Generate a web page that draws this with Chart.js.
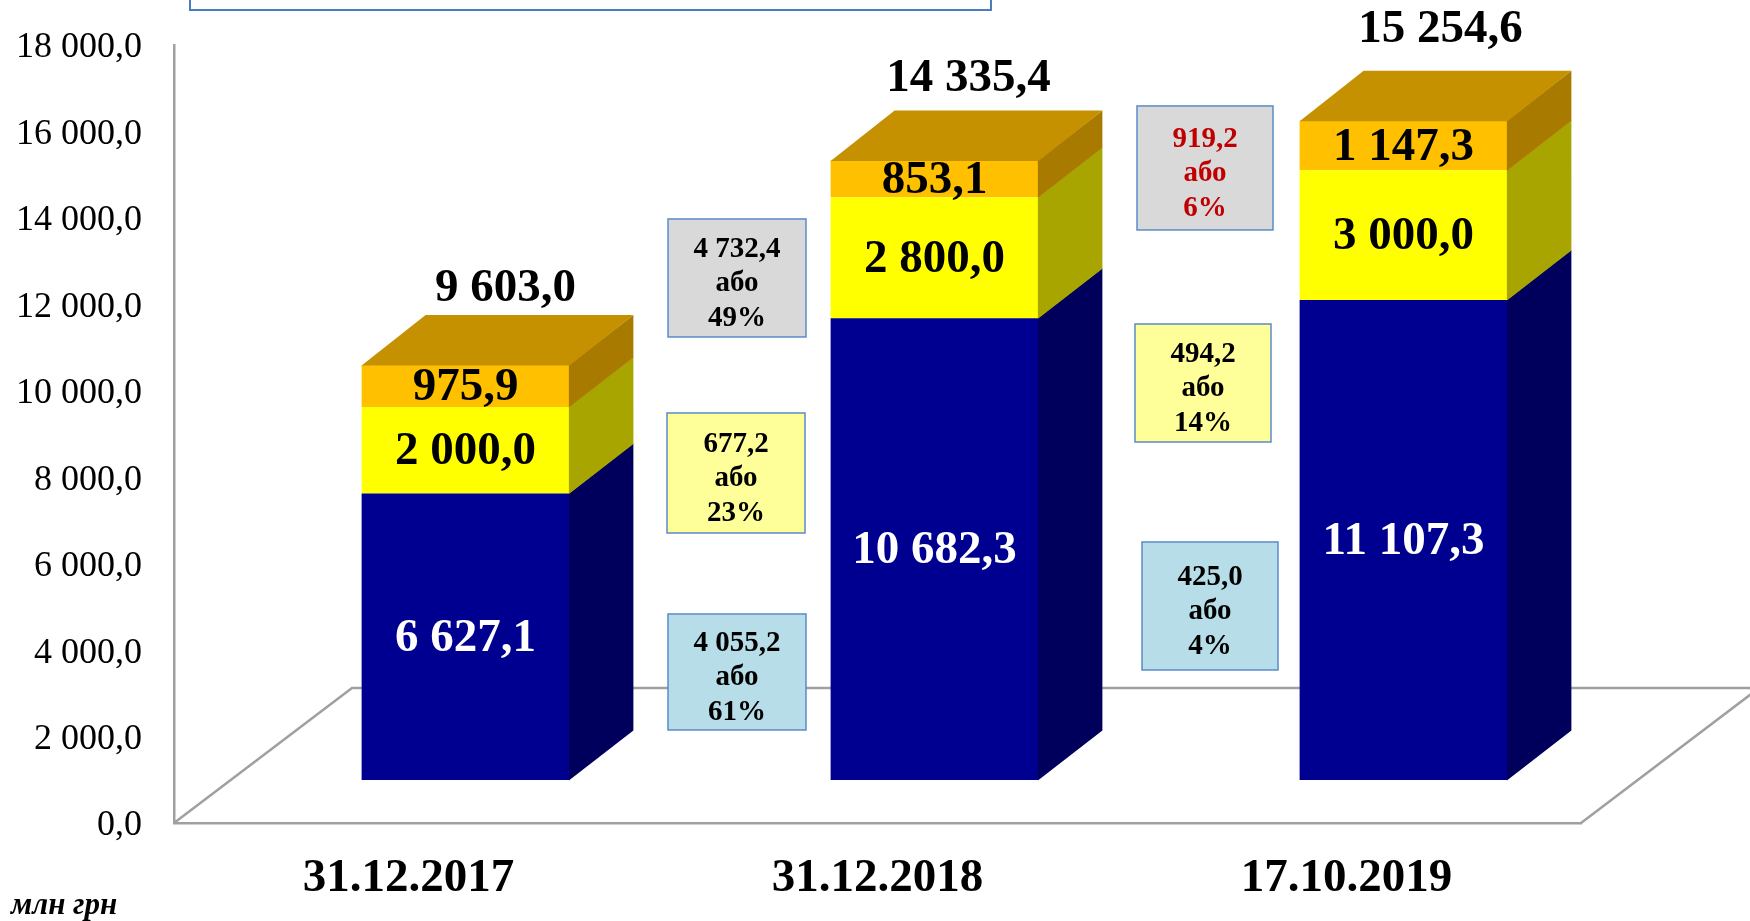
<!DOCTYPE html>
<html>
<head>
<meta charset="utf-8">
<script src="https://cdn.jsdelivr.net/npm/chart.js@4.4.1/dist/chart.umd.min.js"></script>
<style>
  html, body { margin: 0; padding: 0; background: #fff; }
  #wrap { position: relative; width: 1750px; height: 921px; }
</style>
</head>
<body>
<div id="wrap"><canvas id="chart"></canvas></div>
<script>
const categories = ['31.12.2017', '31.12.2018', '17.10.2019'];
const blueValues = [6627.1, 10682.3, 11107.3];
const yellowValues = [2000.0, 2800.0, 3000.0];
const orangeValues = [975.9, 853.1, 1147.3];
const totals = [9603.0, 14335.4, 15254.6];

// change boxes between neighbouring dates
const totalChange = [4732.4, 919.2];
const totalChangePct = [49, 6];
const yellowChange = [677.2, 494.2];
const yellowChangePct = [23, 14];
const blueChange = [4055.2, 425.0];
const blueChangePct = [61, 4];

const SERIF = '"Liberation Serif", "Times New Roman", serif';

// oblique 3d look: bars sit behind the front plane of the axes
const D = { barDx: 57, barDy: 43, sideDx: 64, sideDy: 50, floorDx: 178, floorDy: 135 };

// hand placed totals in the original, so a small nudge per bar
const totalNudge = [[0, 0], [-6, -5], [-3, -15]];

// where the change boxes sit: value on the y scale, nudge from the gap centre, size
const boxLayout = {
  total:  { at: [12610, 15155], dx: [94, 93], w: [138, 136], h: [118, 124], fill: '#d9d9d9', color: ['#000', '#c00000'] },
  yellow: { at: [8098, 10180],  dx: [93, 91], w: [138, 136], h: [120, 118], fill: '#ffff99', color: ['#000', '#000'] },
  blue:   { at: [3494, 5021],   dx: [94, 98], w: [138, 136], h: [116, 128], fill: '#b7dde8', color: ['#000', '#000'] }
};

function fmt(v) {
  const [i, d] = v.toFixed(1).split('.');
  return i.replace(/\B(?=(\d{3})+(?!\d))/g, ' ') + ',' + d;
}

const bars3d = {
  id: 'bars3d',
  beforeDatasetsDraw(chart) {
    const { ctx, chartArea: a } = chart;
    // floor
    ctx.save();
    ctx.strokeStyle = '#a0a0a0';
    ctx.lineWidth = 2.5;
    ctx.beginPath();
    ctx.moveTo(a.left, a.bottom);
    ctx.lineTo(a.left + D.floorDx, a.bottom - D.floorDy);
    ctx.lineTo(a.right + D.floorDx, a.bottom - D.floorDy);
    ctx.moveTo(a.right, a.bottom);
    ctx.lineTo(a.right + D.floorDx, a.bottom - D.floorDy);
    ctx.stroke();
    ctx.restore();

    ctx.save();
    ctx.translate(D.barDx, -D.barDy);
  },
  afterDatasetsDraw(chart) {
    const ctx = chart.ctx;
    const sets = chart.data.datasets;
    const last = sets.length - 1;

    sets.forEach((ds, di) => {
      chart.getDatasetMeta(di).data.forEach((bar, i) => {
        const { x, y, base, width } = bar.getProps(['x', 'y', 'base', 'width'], true);
        const l = x - width / 2, r = x + width / 2;
        ctx.fillStyle = ds.sideColor;
        ctx.beginPath();
        ctx.moveTo(r - 0.5, y);
        ctx.lineTo(r + D.sideDx, y - D.sideDy);
        ctx.lineTo(r + D.sideDx, base - D.sideDy + 0.5);
        ctx.lineTo(r - 0.5, base + 0.5);
        ctx.closePath();
        ctx.fill();
        if (di === last) {
          ctx.fillStyle = ds.topColor;
          ctx.beginPath();
          ctx.moveTo(l, y + 0.5);
          ctx.lineTo(l + D.sideDx, y - D.sideDy);
          ctx.lineTo(r + D.sideDx, y - D.sideDy);
          ctx.lineTo(r, y + 0.5);
          ctx.closePath();
          ctx.fill();
        }
      });
    });

    // value labels
    ctx.textAlign = 'center';
    ctx.textBaseline = 'middle';
    ctx.font = 'bold 47px ' + SERIF;
    sets.forEach((ds, di) => {
      chart.getDatasetMeta(di).data.forEach((bar, i) => {
        const { x, y, base } = bar.getProps(['x', 'y', 'base'], true);
        ctx.fillStyle = ds.labelColor;
        ctx.fillText(fmt(ds.data[i]), x, (y + base) / 2 + 2);
      });
    });

    // totals above the bars
    const top = chart.getDatasetMeta(last).data;
    ctx.fillStyle = '#000';
    ctx.textBaseline = 'alphabetic';
    top.forEach((bar, i) => {
      const { x, y } = bar.getProps(['x', 'y'], true);
      ctx.fillText(fmt(totals[i]), x + D.sideDx / 2 + 8 + totalNudge[i][0], y - D.sideDy - 14 + totalNudge[i][1]);
    });

    ctx.restore();
  },
  afterDraw(chart) {
    const { ctx, scales } = chart;
    const xs = scales.x, ys = scales.y;

    const drawBox = (key, vals, pcts) => {
      const b = boxLayout[key];
      vals.forEach((v, i) => {
        const cx = (xs.getPixelForValue(i) + xs.getPixelForValue(i + 1)) / 2 + b.dx[i];
        const cy = ys.getPixelForValue(b.at[i]);
        const w = b.w[i], h = b.h[i];
        ctx.fillStyle = b.fill;
        ctx.fillRect(cx - w / 2, cy - h / 2, w, h);
        ctx.strokeStyle = '#5b8bc9';
        ctx.lineWidth = 1.5;
        ctx.strokeRect(cx - w / 2, cy - h / 2, w, h);
        ctx.fillStyle = b.color[i];
        ctx.font = 'bold 29px ' + SERIF;
        ctx.textAlign = 'center';
        ctx.textBaseline = 'middle';
        [fmt(v), 'або', pcts[i] + '%'].forEach((t, k) => {
          ctx.fillText(t, cx, cy + 6 + (k - 1) * 34.5);
        });
      });
    };
    drawBox('total', totalChange, totalChangePct);
    drawBox('yellow', yellowChange, yellowChangePct);
    drawBox('blue', blueChange, blueChangePct);

    // unit
    ctx.fillStyle = '#000';
    ctx.font = 'italic bold 31px ' + SERIF;
    ctx.textAlign = 'left';
    ctx.textBaseline = 'middle';
    ctx.fillText('млн грн', 11, 906);

    // bottom edge of the legend frame above the picture
    ctx.strokeStyle = '#4a7ebb';
    ctx.lineWidth = 2;
    ctx.strokeRect(190, -20, 801, 30);
  }
};

new Chart(document.getElementById('chart'), {
  type: 'bar',
  data: {
    labels: categories,
    datasets: [
      { data: blueValues, backgroundColor: '#000090', sideColor: '#00005c', labelColor: '#fff' },
      { data: yellowValues, backgroundColor: '#ffff00', sideColor: '#a8a400', labelColor: '#000' },
      { data: orangeValues, backgroundColor: '#ffc000', sideColor: '#a87b00', topColor: '#c59100', labelColor: '#000' }
    ]
  },
  options: {
    responsive: true,
    maintainAspectRatio: false,
    animation: false,
    layout: { padding: { top: 45, right: 169, left: 0, bottom: 0 } },
    datasets: { bar: { barPercentage: 0.443, categoryPercentage: 1, borderWidth: 0 } },
    plugins: { legend: { display: false }, tooltip: { enabled: false } },
    scales: {
      x: {
        stacked: true,
        grid: { display: false },
        border: { display: true, color: '#a0a0a0', width: 2.5 },
        ticks: { color: '#000', padding: 20, font: { family: SERIF, size: 47, weight: 'bold' } },
        afterFit(s) { s.height = 98; s.paddingLeft = 0; s.paddingRight = 0; }
      },
      y: {
        stacked: true,
        min: 0,
        max: 18000,
        grid: { display: false, drawTicks: false },
        border: { display: true, color: '#a0a0a0', width: 2.5 },
        ticks: {
          stepSize: 2000,
          color: '#000',
          padding: 32,
          labelOffset: 3,
          font: { family: SERIF, size: 36 },
          callback: v => fmt(v)
        },
        afterFit(s) { s.width = 174; s.paddingTop = 0; s.paddingBottom = 0; }
      }
    }
  },
  plugins: [bars3d]
});
</script>
</body>
</html>
